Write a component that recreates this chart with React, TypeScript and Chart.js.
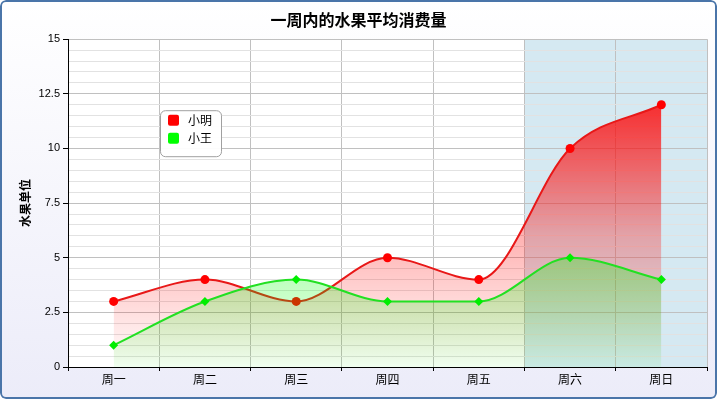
import React, { useEffect, useRef } from 'react';
import { Chart, registerables } from 'chart.js';

Chart.register(...registerables);

// ---- data ----
const categories = ['周一', '周二', '周三', '周四', '周五', '周六', '周日'];
const xiaoming = [3, 4, 3, 5, 4, 10, 12];
const xiaowang = [1, 3, 4, 3, 3, 5, 4];
const seriesNames = ['小明', '小王'];
const yMin = 0;
const yMax = 15;
const yMajorStep = 2.5;
const yMinorStep = 0.5;
const bandStartCategory = '周六';
const chartTitle = '一周内的水果平均消费量';
const yAxisTitle = '水果单位';

const FONT = '"Liberation Sans", "Noto Sans CJK SC", sans-serif';
const CJK_FONT = '"Noto Sans CJK SC", "Liberation Sans", sans-serif';

const isMajor = (v: number) => Math.abs(v / yMajorStep - Math.round(v / yMajorStep)) < 1e-6;

function areaGradient(ctx: any, rgb: string, stops: [number, number][]) {
  const chart = ctx.chart;
  const { chartArea, scales } = chart;
  if (!chartArea || !scales.y) return `rgba(${rgb},${stops[0][1]})`;
  const data = chart.data.datasets[ctx.datasetIndex].data as number[];
  const max = Math.max(...data);
  const y0 = scales.y.getPixelForValue(max);
  const y1 = scales.y.getPixelForValue(0);
  const g = chart.ctx.createLinearGradient(0, y0, 0, y1);
  stops.forEach(([o, a]) => g.addColorStop(o, `rgba(${rgb},${a})`));
  return g;
}

const plotBgPlugin = {
  id: 'plotBg',
  beforeDraw(chart: any) {
    const { ctx, chartArea: a, scales } = chart;
    const x = scales.x;
    ctx.save();
    ctx.fillStyle = '#ffffff';
    ctx.fillRect(a.left, a.top, a.width, a.height);
    const idx = categories.indexOf(bandStartCategory);
    const bx = (x.getPixelForValue(idx - 1) + x.getPixelForValue(idx)) / 2;
    ctx.fillStyle = '#d5e9f2';
    ctx.fillRect(bx, a.top, a.right - bx, a.height);
    ctx.restore();
  },
};

const floatLegendPlugin = {
  id: 'floatLegend',
  afterDraw(chart: any) {
    const { ctx, chartArea: a } = chart;
    const bx = a.left + 92;
    const by = a.top + 71;
    const bw = 61;
    const bh = 46;
    ctx.save();
    ctx.beginPath();
    ctx.roundRect(bx + 0.5, by + 0.5, bw, bh, 5);
    ctx.fillStyle = 'rgba(255,255,255,0.95)';
    ctx.fill();
    ctx.strokeStyle = '#a0a0a0';
    ctx.lineWidth = 1;
    ctx.stroke();
    ctx.font = `12px ${CJK_FONT}`;
    ctx.textBaseline = 'middle';
    ctx.textAlign = 'left';
    chart.data.datasets.forEach((ds: any, i: number) => {
      const cy = by + 10 + i * 18;
      ctx.beginPath();
      ctx.roundRect(bx + 8, cy - 5.5, 11, 11, 2);
      ctx.fillStyle = ds.legendColor;
      ctx.fill();
      ctx.fillStyle = '#000';
      ctx.fillText(ds.label, bx + 28, cy + 0.5);
    });
    ctx.restore();
  },
};

export default function App() {
  const canvasRef = useRef<HTMLCanvasElement | null>(null);

  useEffect(() => {
    document.body.style.margin = '0';
    const canvas = canvasRef.current;
    if (!canvas) return;
    const chart = new Chart(canvas, {
      type: 'line',
      data: {
        labels: categories,
        datasets: [
          {
            label: seriesNames[0],
            data: xiaoming,
            order: 1,
            borderColor: '#e81818',
            borderWidth: 2,
            cubicInterpolationMode: 'monotone',
            fill: 'origin',
            backgroundColor: (c: any) =>
              areaGradient(c, '255,0,0', [
                [0, 0.8],
                [0.5, 0.3],
                [1, 0],
              ]),
            pointStyle: 'circle',
            pointRadius: 4.5,
            pointBackgroundColor: '#ff0000',
            pointBorderWidth: 0,
            legendColor: '#ff0000',
          } as any,
          {
            label: seriesNames[1],
            data: xiaowang,
            order: 0,
            borderColor: '#22e022',
            borderWidth: 2,
            cubicInterpolationMode: 'monotone',
            fill: 'origin',
            backgroundColor: (c: any) =>
              areaGradient(c, '0,255,0', [
                [0, 0.3],
                [1, 0.06],
              ]),
            pointStyle: 'rectRot',
            pointRadius: 4.5,
            pointBackgroundColor: '#00ee00',
            pointBorderWidth: 0,
            legendColor: '#00ff00',
          } as any,
        ],
      },
      options: {
        responsive: false,
        animation: false,
        layout: { padding: { left: 10, right: 10, top: 0, bottom: 0 } },
        plugins: {
          legend: { display: false },
          tooltip: { enabled: false },
          title: {
            display: true,
            text: chartTitle,
            color: '#000',
            font: { family: CJK_FONT, size: 16, weight: 'bold' },
            padding: { top: 10, bottom: 10 },
          },
        },
        scales: {
          x: {
            type: 'category',
            offset: true,
            grid: {
              offset: true,
              color: '#c0c0c0',
              tickColor: '#000',
              tickLength: 4,
              z: -1,
            },
            border: { color: '#000', width: 1 },
            ticks: {
              font: { family: CJK_FONT, size: 12 },
              color: '#000',
              padding: 1,
              maxRotation: 0,
              autoSkip: false,
            },
            afterFit(s: any) {
              s.height = 32;
            },
          },
          y: {
            min: yMin,
            max: yMax,
            ticks: {
              stepSize: yMinorStep,
              autoSkip: false,
              callback: (v: any) => (isMajor(Number(v)) ? String(v) : ''),
              font: { family: FONT, size: 11 },
              color: '#000',
              padding: 3,
            },
            grid: {
              color: (c: any) => (c.tick && isMajor(c.tick.value) ? '#c0c0c0' : '#e2e2e2'),
              tickColor: (c: any) => (c.tick && isMajor(c.tick.value) ? '#000' : 'rgba(0,0,0,0)'),
              tickLength: 5,
              z: -1,
            },
            border: { color: '#000', width: 1 },
            title: {
              display: true,
              text: yAxisTitle,
              color: '#000',
              font: { family: CJK_FONT, size: 12, weight: 'bold' },
              padding: { top: 8, bottom: 0 },
            },
            afterFit(s: any) {
              s.width = 58;
            },
          },
        },
      } as any,
      plugins: [plotBgPlugin, floatLegendPlugin],
    });
    return () => chart.destroy();
  }, []);

  return (
    <div
      style={{
        position: 'relative',
        width: 717,
        height: 399,
        background: 'linear-gradient(#ffffff, #ececf9)',
        borderRadius: 6,
        overflow: 'hidden',
      }}
    >
      <canvas
        ref={canvasRef}
        width={717}
        height={399}
        style={{ position: 'absolute', left: 0, top: 0, width: 717, height: 399 }}
      />
      <div
        style={{
          position: 'absolute',
          left: 0,
          top: 0,
          right: 0,
          bottom: 0,
          border: '2px solid #4a75a9',
          borderRadius: 6,
          boxSizing: 'border-box',
          pointerEvents: 'none',
        }}
      />
    </div>
  );
}
